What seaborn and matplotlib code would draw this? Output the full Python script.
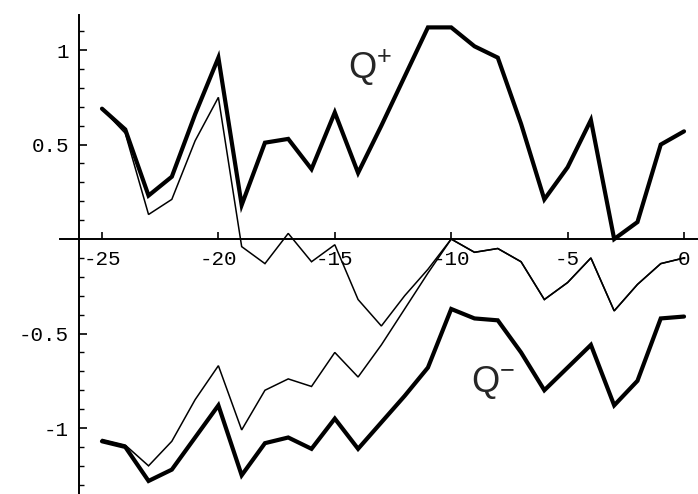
import numpy as np
import pandas as pd
import matplotlib
matplotlib.use('Agg')
import matplotlib.pyplot as plt
import seaborn as sns

# ------------------------------------------------------------
# data (x runs -25 .. 0)
# ------------------------------------------------------------
x_vals = list(range(-25, 1))

q_plus_thick = [0.69, 0.58, 0.23, 0.33, 0.66, 0.96, 0.18, 0.51, 0.53, 0.37,
                0.67, 0.35, 0.60, 0.86, 1.12, 1.12, 1.02, 0.96, 0.61, 0.21,
                0.38, 0.63, 0.00, 0.09, 0.50, 0.57]
q_plus_thin = [0.69, 0.56, 0.13, 0.21, 0.52, 0.75, -0.04, -0.13, 0.03, -0.12,
               -0.03, -0.32, -0.46, -0.30, -0.16, 0.00, -0.07, -0.05, -0.12, -0.32,
               -0.23, -0.10, -0.38, -0.24, -0.13, -0.10]
q_minus_thin = [-1.06, -1.09, -1.20, -1.07, -0.85, -0.67, -1.01, -0.80, -0.74, -0.78,
                -0.60, -0.73, -0.56, -0.37, -0.18, 0.00, -0.07, -0.05, -0.12, -0.32,
                -0.23, -0.10, -0.38, -0.24, -0.13, -0.10]
q_minus_thick = [-1.07, -1.10, -1.28, -1.22, -1.05, -0.88, -1.25, -1.08, -1.05, -1.11,
                 -0.95, -1.11, -0.97, -0.83, -0.68, -0.37, -0.42, -0.43, -0.60, -0.80,
                 -0.68, -0.56, -0.88, -0.75, -0.42, -0.41]

x_ticks = [-25, -20, -15, -10, -5, 0]
y_ticks = [-1, -0.5, 0.5, 1]
y_tick_labels = ['-1', '-0.5', '0.5', '1']

df = pd.DataFrame({'x': x_vals,
                   'q_plus_thick': q_plus_thick, 'q_plus_thin': q_plus_thin,
                   'q_minus_thin': q_minus_thin, 'q_minus_thick': q_minus_thick})

# ------------------------------------------------------------
# figure
# ------------------------------------------------------------
sns.set_style('white')
plt.rcParams['mathtext.fontset'] = 'custom'
plt.rcParams['mathtext.rm'] = 'Liberation Sans'
plt.rcParams['mathtext.it'] = 'Liberation Sans'

fig = plt.figure(figsize=(6.98, 4.94), dpi=100)
ax = fig.add_axes([0, 0, 1, 1])

for col, lw in [('q_plus_thin', 1.1), ('q_minus_thin', 1.1),
                ('q_plus_thick', 3.0), ('q_minus_thick', 3.0)]:
    sns.lineplot(data=df, x='x', y=col, ax=ax, color='black', linewidth=lw,
                 estimator=None, solid_joinstyle='miter')

ax.set_xlim(-29.38, 0.60)
ax.set_ylim(-1.349, 1.265)

# Mathematica style axes crossing at (-26, 0)
ax.spines['top'].set_visible(False)
ax.spines['right'].set_visible(False)
ax.spines['bottom'].set_position(('data', 0))
ax.spines['left'].set_position(('data', -26))
ax.spines['bottom'].set_bounds(-26.8, 0.60)
ax.spines['left'].set_bounds(-1.349, 1.185)
for s in ['bottom', 'left']:
    ax.spines[s].set_linewidth(1.4)
    ax.spines[s].set_color('black')

ax.set_xticks(x_ticks)
ax.set_xticklabels([str(t) for t in x_ticks])
ax.set_yticks(y_ticks)
ax.set_yticklabels(y_tick_labels)
minor_y = [v / 10 for v in range(-13, 12) if v not in (-10, -5, 0, 5, 10)]
ax.set_yticks(minor_y, minor=True)

# seaborn 'white' switches the ticks off, so turn them back on
ax.tick_params(axis='x', which='major', bottom=True, direction='in', length=5,
               width=1.2, pad=8, labelsize=15, colors='black')
ax.tick_params(axis='y', which='major', left=True, direction='in', length=6,
               width=1.2, pad=7, labelsize=15, colors='black')
ax.tick_params(axis='y', which='minor', left=True, direction='in', length=3.5,
               width=1.0, colors='black')
for lab in ax.get_xticklabels() + ax.get_yticklabels():
    lab.set_family('Liberation Mono')

ax.set_xlabel('')
ax.set_ylabel('')

# curve labels
ax.text(-13.5, 0.905, r'$\mathrm{Q}^{+}$', fontsize=26, ha='center', va='center')
ax.text(-8.2, -0.76, r'$\mathrm{Q}^{-}$', fontsize=26, ha='center', va='center')

fig.savefig('out.png', dpi=100)
